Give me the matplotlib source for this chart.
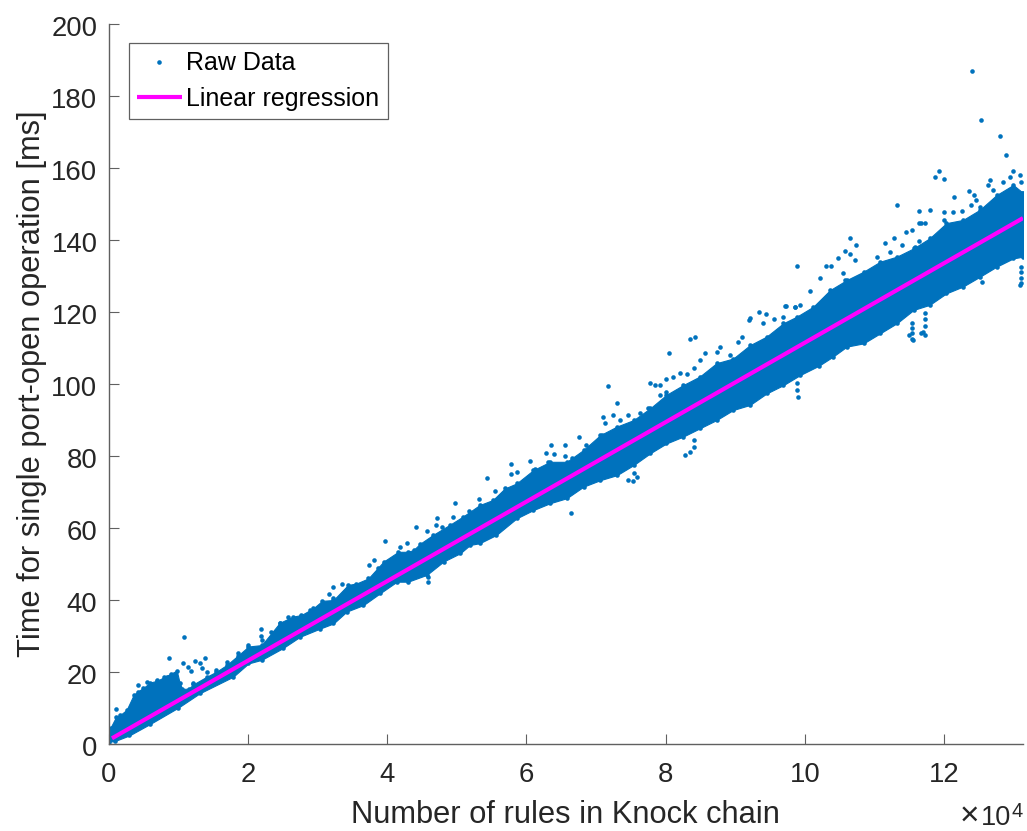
"""
Port-open time against number of rules in the Knock chain.
The dense part of the cloud is drawn as a band between the edges read off
the picture, the points that stand clear of it are drawn one by one.
"""
import numpy as np
import matplotlib
matplotlib.use("Agg")
import matplotlib.pyplot as plt
from matplotlib.transforms import ScaledTranslation

plt.rcParams["font.family"] = ["Liberation Sans", "DejaVu Sans"]

BLUE = "#0072BD"
MAGENTA = "#FF00FF"
DARK = "#262626"
SPINE = "#606060"

# edges of the solid cloud, x in units of 1e4 rules, y in ms
upper_x = [0, 0.03, 0.11, 0.17, 0.26, 0.36, 0.42, 0.5, 0.6, 0.7, 0.8, 0.9, 0.98, 1.02, 1.06, 1.15,
           1.22, 1.41, 1.55, 1.70, 1.86, 2.01, 2.2, 2.46, 2.65, 2.77, 2.94, 3.07, 3.23, 3.44,
           3.56, 3.73, 3.95, 4.16, 4.30, 4.38, 4.47, 4.66, 4.90, 5.09, 5.33, 5.52, 5.69, 5.86,
           6.10, 6.34, 6.58, 6.82, 7.06, 7.30, 7.54, 7.78, 8.01, 8.25, 8.49, 8.73, 8.97, 9.21,
           9.45, 9.69, 9.88, 10.12, 10.36, 10.6, 10.84, 11.08, 11.32, 11.56, 11.79, 12.03,
           12.27, 12.51, 12.75, 12.99, 13.13]
upper_y = [3, 4.5, 7.5, 8, 9.4, 13.5, 14.5, 15.5, 17, 17.5, 18.5, 19.5, 20.3, 17, 15.2, 15.3,
           16.5, 18.6, 20, 21.9, 24.5, 27, 27.4, 33.6, 35.3, 35.75, 37.6, 39.7, 39.9, 44.1,
           44.5, 45.9, 50.6, 53.3, 53.3, 53.8, 55.5, 58, 60.8, 63.1, 66.3, 67.7, 70.9, 72.3,
           76, 78.3, 78.3, 81.6, 85.7, 88.1, 89.9, 93.2, 96.9, 99.6, 102, 105.7, 107, 110.7,
           113.1, 116.8, 118.6, 121.4, 126, 128.8, 131.1, 133.9, 135.3, 137.6, 140.4, 144.6,
           145.5, 148.3, 152.4, 155.2, 153]
lower_x = [0, 0.1, 0.3, 0.6, 1.0, 1.31, 1.79, 2.01, 2.2, 2.5, 2.75, 3.04, 3.23, 3.42, 3.66,
           3.90, 4.14, 4.30, 4.57, 4.81, 5.05, 5.19, 5.33, 5.57, 5.86, 6.10, 6.34, 6.58, 6.82,
           7.06, 7.30, 7.54, 7.78, 8.01, 8.25, 8.49, 8.73, 8.97, 9.21, 9.45, 9.69, 9.93, 10.2,
           10.4, 10.6, 10.84, 11.08, 11.32, 11.56, 11.79, 12.03, 12.27, 12.51, 12.75, 12.99, 13.13]
lower_y = [0.5, 0.8, 2.3, 5.5, 10, 14, 18.6, 22.3, 23.3, 26.5, 29.7, 32, 33.4, 36.7, 38.5,
           41.8, 45, 45, 46.9, 50.6, 52.9, 55.2, 55.7, 58, 62.6, 64.9, 66.8, 68.2, 71.4,
           73.2, 74.6, 77.4, 80.7, 83.4, 85.3, 87.6, 89.9, 92.7, 94.1, 97.3, 99.6, 102.4, 105,
           107.5, 110.3, 111.2, 114, 116.8, 120.5, 121.9, 125.1, 127, 129.7, 132.5, 134.8, 135.3]

# points clear of the cloud
raw_x = [12.40, 12.53, 12.80, 12.89, 11.93, 11.87, 12.00, 11.32, 12.14, 11.64, 11.79, 12.36,
         12.43, 12.45, 12.66, 12.98, 10.65, 10.73, 10.58, 10.65, 10.47, 9.89, 10.30, 10.37,
         10.21, 11.15, 11.28, 11.45, 11.53, 13.10, 13.10, 13.10, 13.10, 13.08, 11.53, 11.53,
         11.53, 11.53, 11.55, 11.50, 11.72, 11.72, 11.72, 11.70, 11.72, 11.66, 7.17, 8.05, 8.35,
         8.42, 9.34, 9.44, 6.64, 7.30, 6.75, 6.36, 6.56, 6.05, 5.78, 5.78, 5.87, 6.28,
         6.40, 7.10, 7.24, 7.13, 7.46, 7.53, 7.59, 7.54, 8.27, 8.35, 8.40, 8.40, 7.77,
         7.85, 7.92, 8.01, 8.10, 9.19, 9.21, 8.78, 8.56, 9.88, 9.89, 9.90, 9.72, 9.86,
         1.08, 0.87, 1.07, 1.24, 1.39, 1.31, 1.14, 1.19, 1.34, 0.11, 0.42, 2.19, 2.19,
         2.33, 2.58, 2.77, 2.89, 3.23, 3.35, 3.17, 3.97, 3.81, 3.74, 3.87,
         5.44, 5.55, 4.97, 5.32, 5.18, 4.95, 4.72, 4.70, 4.42, 4.58, 4.79, 4.28, 4.18, 3.23,
         4.59, 4.59, 6.12, 6.31, 6.55, 6.66, 6.86, 7.08, 7.22, 7.34, 7.46, 7.63, 7.75, 7.85,
         7.94, 7.92, 8.01, 8.21, 8.30, 8.40, 8.49, 8.73, 8.92, 9.04, 9.09, 9.40, 9.55, 9.69,
         9.88, 9.73, 9.86, 9.93, 10.07, 10.55, 10.58, 10.72, 11.04, 11.22, 11.39, 11.58,
         11.63, 11.72, 11.63, 11.67, 12.00, 12.00, 12.13, 12.26, 12.39, 12.51, 12.63, 12.70,
         12.85, 12.94, 13.09, 13.10, 13.11, 12.54, 0.55, 0.69, 0.84, 1.22, 1.41, 1.55, 1.70,
         1.86, 2.01, 2.20, 2.46]
raw_y = [187.0, 173.2, 168.7, 163.4, 159.1, 157.3, 156.9, 149.6, 151.9, 148.0, 148.3, 153.6,
         152.4, 151.1, 156.6, 159.2, 140.6, 138.4, 137.0, 136.1, 134.8, 132.8, 132.8, 132.8,
         129.4, 139.0, 140.5, 142.0, 142.8, 132.5, 131.0, 129.5, 128.0, 127.5, 116.9, 115.5,
         114.0, 112.5, 112.1, 113.5, 119.6, 118.0, 116.0, 114.5, 113.5, 114.0, 99.3, 108.4, 112.4,
         113.0, 119.9, 119.5, 64.0, 94.7, 85.1, 83.0, 83.0, 78.4, 77.6, 75.0, 75.5, 80.7,
         80.6, 90.7, 91.4, 89.2, 73.2, 73.0, 74.1, 75.2, 80.2, 81.1, 82.5, 84.3, 100.2,
         99.6, 99.6, 101.3, 102.0, 117.7, 118.2, 110.3, 108.6, 100.1, 98.2, 96.4, 121.6, 121.4,
         29.6, 23.8, 22.4, 22.9, 23.8, 22.3, 21.4, 20.3, 20.9, 9.7, 16.2, 32.0, 30.0,
         31.0, 35.3, 35.6, 37.2, 43.5, 44.3, 41.6, 56.4, 51.0, 49.7, 48.7,
         73.9, 70.2, 67.0, 68.0, 64.7, 63.1, 62.7, 60.7, 60.2, 59.0, 60.3, 55.7, 54.6, 40.6,
         46.4, 45.0, 76.2, 78.3, 80.0, 79.5, 83.0, 85.7, 86.0, 89.9, 91.3, 91.8, 93.2, 93.2,
         94.4, 96.9, 97.8, 102.9, 102.6, 104.3, 106.6, 108.9, 108.0, 111.7, 112.9, 116.8, 117.9, 118.6,
         117.7, 121.6, 121.4, 121.9, 125.8, 130.7, 128.8, 134.4, 135.3, 136.5, 138.5, 138.1,
         139.5, 144.6, 144.6, 144.6, 145.5, 147.8, 147.6, 148.1, 149.6, 149.2, 155.2, 153.8,
         156.1, 157.3, 158.0, 156.1, 153.1, 128.3, 17.2, 17.7, 18.6, 16.8, 20.0, 20.5, 22.8,
         25.1, 27.4, 28.8, 33.4]

fit_x = [0.05, 13.13]
fit_y = [1.5, 146.0]

x_ticks = [0, 2, 4, 6, 8, 10, 12]
y_ticks = list(range(0, 201, 20))


def main():
    fig = plt.figure(figsize=(10.27, 8.31), dpi=100)
    ax = fig.add_axes([108.5 / 1027, 87.3 / 831, 914.5 / 1027, 720 / 831])

    # band on a common x grid so both edges can be filled
    grid = np.unique(np.concatenate([upper_x, lower_x]))
    ax.fill_between(grid, np.interp(grid, lower_x, lower_y), np.interp(grid, upper_x, upper_y),
                    color=BLUE, linewidth=0.8, zorder=2)
    # the edge readings are data points too
    ax.plot(upper_x, upper_y, ls="none", marker="o", ms=3.3, mew=0, color=BLUE, zorder=2)
    ax.plot(lower_x, lower_y, ls="none", marker="o", ms=3.3, mew=0, color=BLUE, zorder=2)
    raw, = ax.plot(raw_x, raw_y, ls="none", marker="o", ms=3.3, mew=0, color=BLUE, zorder=2,
                   label="Raw Data")
    fit, = ax.plot(fit_x, fit_y, color=MAGENTA, lw=3, zorder=3, label="Linear regression",
                   solid_capstyle="butt")

    ax.set_xlim(0, 13.13)
    ax.set_ylim(0, 200)
    ax.set_xticks(x_ticks)
    ax.set_yticks(y_ticks)
    ax.tick_params(direction="in", length=7.5, width=0.8, labelsize=19.8, color=SPINE,
                   labelcolor=DARK)
    ax.tick_params(axis="x", pad=13)
    ax.tick_params(axis="y", pad=8)
    # MATLAB sets the y tick labels a touch below their ticks
    for label in ax.get_yticklabels():
        label.set_transform(label.get_transform() + ScaledTranslation(0, -2 / 100, fig.dpi_scale_trans))
    ax.spines["top"].set_visible(False)
    ax.spines["right"].set_visible(False)
    for side in ("left", "bottom"):
        ax.spines[side].set_color(SPINE)
        ax.spines[side].set_linewidth(1.0)
    ax.set_xlabel("Number of rules in Knock chain", fontsize=22.2, color=DARK, labelpad=9)
    ax.set_ylabel("Time for single port-open operation [ms]", fontsize=22.2, color=DARK, labelpad=3)

    leg = ax.legend(handles=[raw, fit], loc="upper left", bbox_to_anchor=(129 / 1027, 1 - 43.3 / 831),
                    bbox_transform=fig.transFigure, fontsize=18, fancybox=False, framealpha=1,
                    edgecolor=SPINE, borderaxespad=0, borderpad=0.32, labelspacing=0.46,
                    handlelength=1.78, handletextpad=0.2, labelcolor="black")
    leg.get_frame().set_linewidth(0.9)

    fig.text(960 / 1027, 1 - 825 / 831, "\u00d7", fontsize=24, color=DARK, ha="left", va="baseline")
    fig.text(981 / 1027, 1 - 825 / 831, "10", fontsize=19.5, color=DARK, ha="left", va="baseline")
    fig.text(1012 / 1027, 1 - 817 / 831, "4", fontsize=14.5, color=DARK, ha="left", va="baseline")

    fig.savefig("out.png", dpi=100)


if __name__ == "__main__":
    main()
